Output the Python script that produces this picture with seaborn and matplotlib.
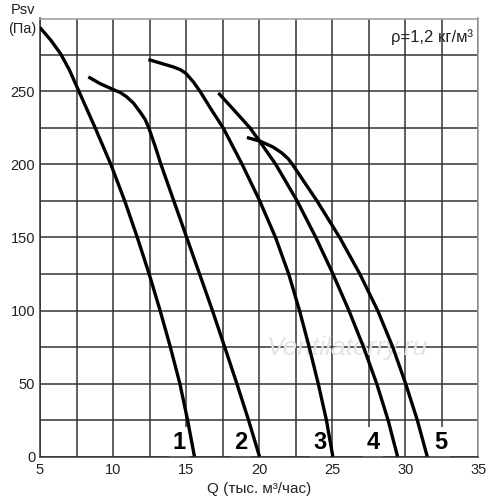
import numpy as np
import pandas as pd
import matplotlib
matplotlib.use("Agg")
import matplotlib.pyplot as plt
import seaborn as sns

# Data (Q in thousands m3/h, Psv in Pa)
c1_q = [5.0, 5.75, 6.4, 7.0, 7.67, 8.78, 9.85, 10.8, 11.66, 12.47, 13.22, 13.92, 14.57, 15.1, 15.57]
c1_p = [293.8, 285, 276, 265, 250, 225, 200, 175, 150, 125, 100, 75, 50, 25, 0]

c2_q = [8.31, 9.11, 10.02, 10.5, 10.94, 11.4, 11.85, 12.2, 12.45, 12.88, 13.28, 14.16, 15.04, 15.92, 16.8, 17.64, 18.47, 19.27, 20.02]
c2_p = [260, 255.4, 251.3, 249.3, 246.3, 242, 236, 230.8, 225, 212.5, 200, 175, 150, 125, 100, 75, 50, 25, 0]

c3_q = [12.42, 14.13, 14.6, 15.0, 15.5, 15.96, 16.7, 17.54, 18.84, 20.04, 21.12, 22.02, 22.76, 23.42, 24.04, 24.6, 25.04]
c3_p = [271.9, 266.8, 265, 262.3, 256.5, 250, 238, 225, 200, 175, 150, 125, 100, 75, 50, 25, 0]

c4_q = [17.21, 18.3, 19.38, 20.06, 21.14, 22.6, 23.88, 25.05, 26.14, 27.14, 28.04, 28.82, 29.47]
c4_p = [249, 237, 225, 215.5, 200, 175, 150, 125, 100, 75, 50, 25, 0]

c5_q = [19.16, 20.06, 20.94, 21.54, 21.98, 22.28, 23.96, 25.51, 26.89, 28.11, 29.14, 30.02, 30.82, 31.5]
c5_p = [218.5, 216, 212, 208, 204, 200, 175, 150, 125, 100, 75, 50, 25, 0]

curve_names = ["1", "2", "3", "4", "5"]
label_q = [14.54, 18.75, 24.14, 27.79, 32.4]
label_p = [9.6, 9.6, 9.6, 9.6, 9.6]

x_ticks = [5, 10, 15, 20, 25, 30, 35]
y_ticks = [0, 50, 100, 150, 200, 250]

sns.set_theme(style="white")
plt.rcParams['font.family'] = ['Liberation Sans', 'DejaVu Sans']

fig = plt.figure(figsize=(5, 5), dpi=100)
ax = fig.add_axes([0.08, 0.087, 0.8767, 0.876])

frames = []
for name, q, p in zip(curve_names, [c1_q, c2_q, c3_q, c4_q, c5_q],
                      [c1_p, c2_p, c3_p, c4_p, c5_p]):
    frames.append(pd.DataFrame({"Q": q, "P": p, "curve": name}))
df = pd.concat(frames, ignore_index=True)

xg = np.arange(5, 35.1, 2.5)
yg = np.arange(0, 300.1, 25)
ax.grid(True, color="#333333", linewidth=1.1, zorder=0)
ax.set_axisbelow(True)

for name in curve_names:
    sub = df[df["curve"] == name]
    sns.lineplot(data=sub, x="Q", y="P", sort=False, color="black",
                 linewidth=2.4, ax=ax, estimator=None, zorder=3,
                 solid_joinstyle="round", solid_capstyle="butt")

ax.set_xlim(5, 35)
ax.set_ylim(0, 300)
ax.set_xticks(xg)
ax.set_yticks(yg)
ax.set_xticklabels([(str(int(v)) if float(v).is_integer() and int(v) in x_ticks else "") for v in xg])
ax.set_yticklabels([(str(int(v)) if int(v) in y_ticks else "") for v in yg])
ax.tick_params(axis="x", length=0, labelsize=10.5, colors="#222222", pad=5)
ax.tick_params(axis="y", length=0, labelsize=10.5, colors="#222222", pad=3.5)

ax.set_xlabel("Q (тыс. м³/час)", fontsize=11, color="#222222", labelpad=3)
ax.set_ylabel("")

for sname in ["left", "bottom"]:
    ax.spines[sname].set_color("#333333")
    ax.spines[sname].set_linewidth(1.1)
for sname in ["top", "right"]:
    ax.spines[sname].set_color("#9a9a9a")
    ax.spines[sname].set_linewidth(1.1)

# faint watermark
ax.text(26.0, 74, "Ventilatorry.ru", fontsize=19, style="italic", ha="center",
        va="center", color="#e4e4e4", zorder=1)

for name, q, p in zip(curve_names, label_q, label_p):
    ax.text(q, p, name, fontsize=17, fontweight="bold", ha="center", va="center",
            color="black", zorder=2,
            bbox=dict(facecolor="white", edgecolor="none", pad=2.5))

ax.text(34.6, 287, "ρ=1,2 кг/м³", fontsize=12, ha="right", va="center",
        color="#222222", zorder=4)

fig.text(0.045, 0.98, "Psv", fontsize=10.5, ha="center", va="center", color="#222222")
fig.text(0.045, 0.942, "(Па)", fontsize=10.5, ha="center", va="center", color="#222222")

fig.savefig("out.png", dpi=100)
